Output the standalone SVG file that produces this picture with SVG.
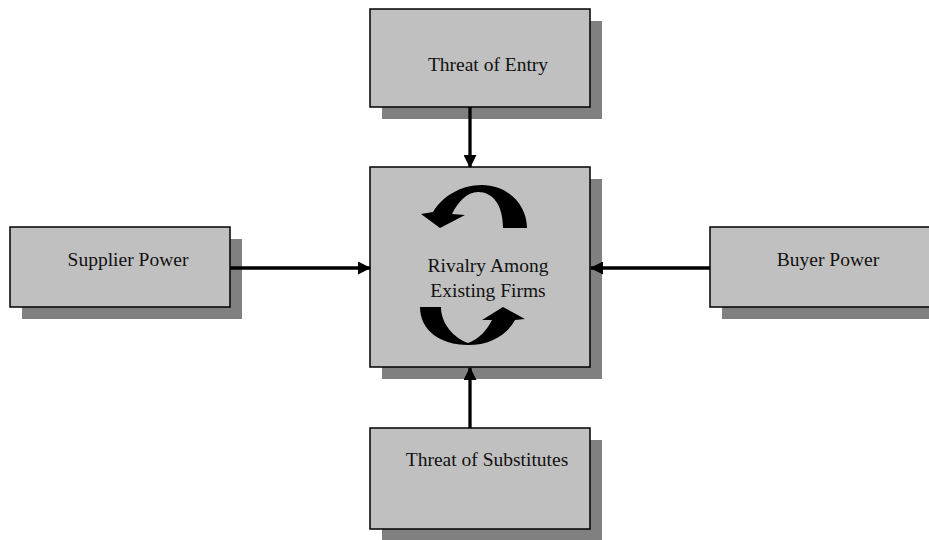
<svg xmlns="http://www.w3.org/2000/svg" width="929" height="540" viewBox="0 0 929 540">
<style>
.box{fill:#c0c0c0;stroke:#000;stroke-width:1.5}
.shadow{fill:#808080}
.lbl{font-family:"Liberation Serif","Times New Roman",serif;font-size:19.5px;fill:#111;text-anchor:middle}
.conn{stroke:#000;stroke-width:3.3;fill:none}
.curl{fill:#000}
</style>
<defs>
<marker id="ah" viewBox="0 0 13 13" refX="12" refY="6.5" markerWidth="13" markerHeight="13" markerUnits="userSpaceOnUse" orient="auto">
<path d="M0,0 L13,6.5 L0,13 Z" fill="#000"/>
</marker>
</defs>
<rect width="929" height="540" fill="#fff"/>
<g id="threat-of-entry">
<rect class="shadow" x="382" y="21" width="220" height="98"/>
<rect class="box" x="370" y="9" width="220" height="98"/>
<text class="lbl" x="488" y="71">Threat of Entry</text>
</g>
<g id="supplier-power">
<rect class="shadow" x="22" y="239" width="220" height="80"/>
<rect class="box" x="10" y="227" width="220" height="80"/>
<text class="lbl" x="128" y="266">Supplier Power</text>
</g>
<g id="buyer-power">
<rect class="shadow" x="722" y="239" width="220" height="80"/>
<rect class="box" x="710" y="227" width="220" height="80"/>
<text class="lbl" x="828" y="266">Buyer Power</text>
</g>
<g id="threat-of-substitutes">
<rect class="shadow" x="382" y="440" width="220" height="101"/>
<rect class="box" x="370" y="428" width="220" height="101"/>
<text class="lbl" x="487" y="466">Threat of Substitutes</text>
</g>
<g id="rivalry">
<rect class="shadow" x="382" y="179" width="220" height="200"/>
<rect class="box" x="370" y="167" width="220" height="200"/>
<path class="curl" d="M527,228 C527,205 508,185 482,185 C460,185 442,197 433,212 L421,214 L440,228 L465,215 L452,214 C458,202 467,192 478,192 C493,192 503,205 503,228 Z"/>
<path class="curl" d="M420,307 C420,330 440,345 468,345 C490,345 507,335 515,320 L525,319 L503,307 L482,320 L492,320 C487,330 478,340 468,343 C454,338 441,324 441,307 Z"/>
<text class="lbl" x="488" y="272">Rivalry Among</text>
<text class="lbl" x="488" y="297">Existing Firms</text>
</g>
<g id="connectors">
<line class="conn" x1="470" y1="107" x2="470" y2="167" marker-end="url(#ah)"/>
<line class="conn" x1="230" y1="268" x2="370" y2="268" marker-end="url(#ah)"/>
<line class="conn" x1="710" y1="268" x2="591" y2="268" marker-end="url(#ah)"/>
<line class="conn" x1="470" y1="428" x2="470" y2="368" marker-end="url(#ah)"/>
</g>
</svg>
